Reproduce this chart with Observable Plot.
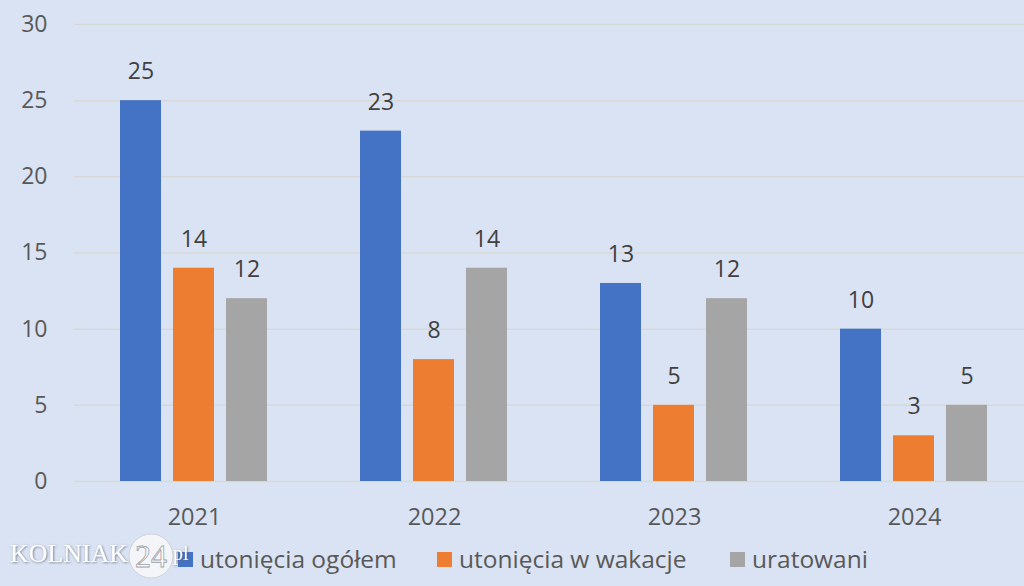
<!DOCTYPE html>
<html><head><meta charset="utf-8">
<script src="https://cdn.jsdelivr.net/npm/d3@7"></script>
<script src="https://cdn.jsdelivr.net/npm/@observablehq/plot@0.6"></script>
<style>
body{margin:0;background:#dae3f3;}
#wrap{position:relative;width:1024px;height:586px;overflow:hidden;background:#dae3f3;font-family:"Open Sans",sans-serif;}
#legend{position:relative;width:1024px;height:46px;}
.item{position:absolute;top:4px;font-size:24.5px;color:#595959;white-space:nowrap;line-height:30px;}
.sw{display:inline-block;width:15px;height:15px;margin-right:7px;vertical-align:1px;}
#wm{position:absolute;left:0;top:524px;}
</style>
</head><body>
<div id="wrap"><div id="chart"></div><div id="legend"></div>
<svg id="wm" width="200" height="62"></svg>
</div>
<script>
const years = ["2021", "2022", "2023", "2024"];
const series = ["utonięcia ogółem", "utonięcia w wakacje", "uratowani"];
const ogolem = [25, 23, 13, 10];
const wakacje = [14, 8, 5, 3];
const uratowani = [12, 14, 12, 5];
const colors = ["#4472c4", "#ed7d31", "#a5a5a5"];
const yTicks = [0, 5, 10, 15, 20, 25, 30];

const values = [ogolem, wakacje, uratowani];
const data = [];
years.forEach((yr, i) => series.forEach((s, j) => data.push({year: yr, series: s, value: values[j][i]})));

const chart = Plot.plot({
  width: 1024, height: 540,
  marginLeft: 74, marginRight: 0, marginTop: 24, marginBottom: 59,
  style: {background: "transparent", fontFamily: "Open Sans", fontSize: "23px", color: "#595959"},
  fx: {domain: years, range: [74, 1034], padding: 0, label: null},
  x: {domain: series, paddingInner: 0.2264, paddingOuter: 0.877, align: 0.5, axis: null},
  y: {domain: [0, 30], label: null},
  color: {domain: series, range: colors},
  marks: [
    Plot.ruleY(yTicks, {stroke: "#d8d9d6", strokeWidth: 1.5}),
    Plot.barY(data, {fx: "year", x: "series", y: "value", fill: "series"}),
    Plot.text(data, {fx: "year", x: "series", y: "value", text: d => String(d.value), dy: -29, fill: "#404040", fontSize: 23}),
    Plot.axisY(yTicks, {tickSize: 0, tickPadding: 27, fontSize: 23, fill: "#595959", label: null}),
    Plot.axisFx({anchor: "bottom", tickSize: 0, tickPadding: 27, fontSize: 23.5, fill: "#595959", label: null})
  ]
});
document.getElementById("chart").appendChild(chart);

const legend = document.getElementById("legend");
const lx = [178, 437, 730];
series.forEach((s, i) => {
  const d = document.createElement("div");
  d.className = "item";
  d.style.left = lx[i] + "px";
  d.innerHTML = `<span class="sw" style="background:${colors[i]}"></span>${s}`;
  legend.appendChild(d);
});

// watermark
const wm = d3.select("#wm");
const defs = wm.append("defs");
const f = defs.append("filter").attr("id", "sh").attr("x", "-20%").attr("y", "-20%").attr("width", "140%").attr("height", "140%");
f.append("feDropShadow").attr("dx", 0.8).attr("dy", 0.8).attr("stdDeviation", 0.8).attr("flood-color", "#5a6070").attr("flood-opacity", 0.8);
wm.append("text").attr("x", 10).attr("y", 38).attr("textLength", 118).attr("lengthAdjust", "spacingAndGlyphs")
  .attr("font-family", "Liberation Serif").attr("font-size", 25).attr("fill", "#ffffff")
  .attr("filter", "url(#sh)").text("KOLNIAK");
wm.append("circle").attr("cx", 151).attr("cy", 32).attr("r", 22).attr("fill", "#f4f5f8")
  .attr("stroke", "#c8ccd4").attr("stroke-width", 0.8);
wm.append("text").attr("x", 151).attr("y", 43).attr("text-anchor", "middle")
  .attr("font-family", "Liberation Serif").attr("font-size", 32).attr("fill", "#ffffff")
  .attr("stroke", "#9aa0ac").attr("stroke-width", 0.8).text("24");
wm.append("text").attr("x", 173).attr("y", 36).attr("font-family", "Liberation Serif").attr("font-size", 20)
  .attr("fill", "#ffffff").attr("filter", "url(#sh)").text("pl");
</script>
</body></html>
